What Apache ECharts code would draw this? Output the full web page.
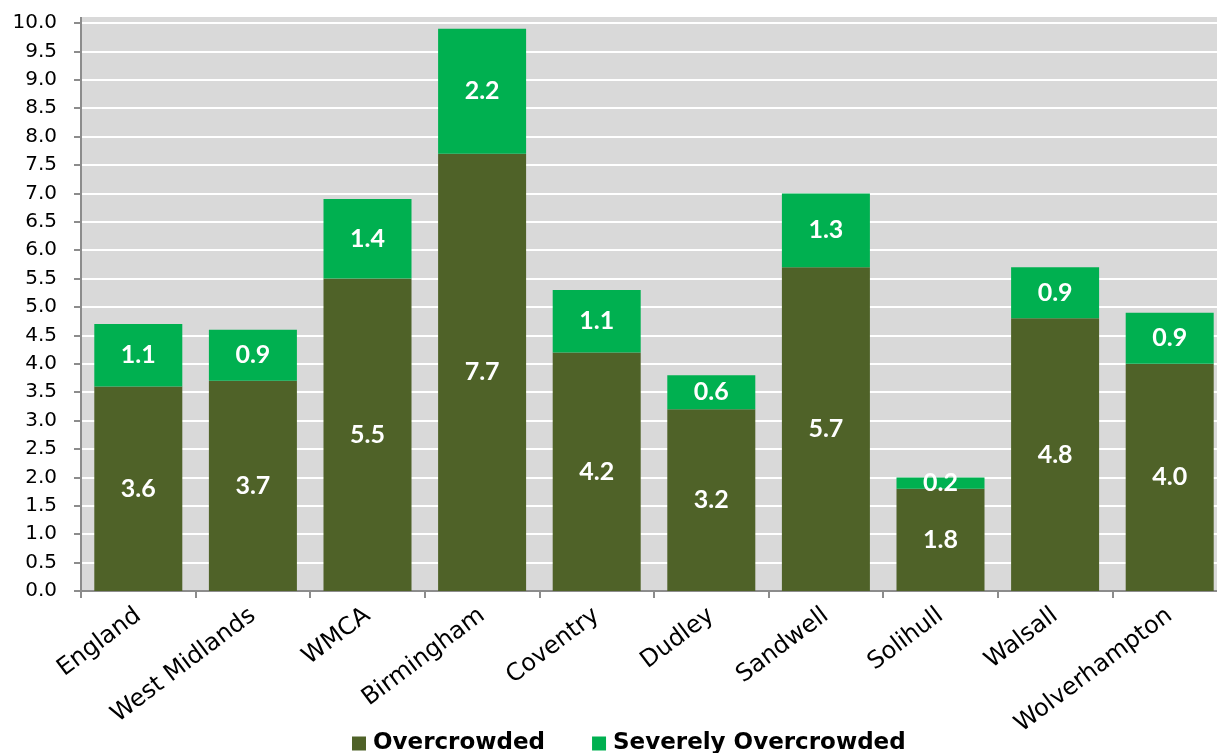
<!DOCTYPE html>
<html>
<head>
<meta charset="utf-8">
<script src="https://cdn.jsdelivr.net/npm/echarts@6/dist/echarts.min.js"></script>
<style>
  html, body { margin: 0; padding: 0; background: #ffffff; }
  #chart { width: 1217px; height: 753px; }
</style>
</head>
<body>
<div id="chart"></div>
<script>
// Overcrowding rates (%) by area
const categories = ['England', 'West Midlands', 'WMCA', 'Birmingham', 'Coventry',
  'Dudley', 'Sandwell', 'Solihull', 'Walsall', 'Wolverhampton'];
const overcrowded = [3.6, 3.7, 5.5, 7.7, 4.2, 3.2, 5.7, 1.8, 4.8, 4.0];
const severelyOvercrowded = [1.1, 0.9, 1.4, 2.2, 1.1, 0.6, 1.3, 0.2, 0.9, 0.9];
const seriesNames = ['Overcrowded', 'Severely Overcrowded'];

const AXIS_FONT = '"DejaVu Sans", sans-serif';
const LABEL_FONT = 'Lato, "Open Sans", sans-serif';

const chart = echarts.init(document.getElementById('chart'), null, { renderer: 'canvas' });

const labelStyle = {
  show: true,
  position: 'inside',
  color: '#ffffff',
  fontFamily: LABEL_FONT,
  fontWeight: 'bold',
  fontSize: 25,
  formatter: p => p.value.toFixed(1)
};

chart.setOption({
  animation: false,
  backgroundColor: '#ffffff',
  grid: {
    left: 81, width: 1146, top: 23, bottom: 162,
    outerBoundsMode: 'none',
    containLabel: false,
    show: false
  },
  graphic: [
    // plot background extends slightly above the 10.0 line
    { type: 'rect', z: -10, shape: { x: 81, y: 17, width: 1146, height: 574 }, style: { fill: '#d9d9d9' } },
    { type: 'line', z: 10, shape: { x1: 81, y1: 17, x2: 81, y2: 23 }, style: { stroke: '#8c8c8c', lineWidth: 2 } }
  ],
  legend: {
    data: seriesNames,
    left: 347,
    top: 727,
    itemWidth: 14,
    itemHeight: 14,
    itemGap: 47,
    icon: 'rect',
    textStyle: { fontFamily: AXIS_FONT, fontWeight: 'bold', fontSize: 23, color: '#000000', padding: [0, 0, 0, 2] }
  },
  xAxis: {
    type: 'category',
    data: categories,
    axisLine: { lineStyle: { color: '#8c8c8c', width: 2 } },
    axisTick: { show: true, length: 7, lineStyle: { color: '#8c8c8c', width: 2 } },
    axisLabel: {
      rotate: 37,
      margin: 22,
      color: '#000000',
      fontFamily: AXIS_FONT,
      fontSize: 24,
      interval: 0
    }
  },
  yAxis: {
    type: 'value',
    min: 0,
    max: 10,
    interval: 0.5,
    axisLine: { show: true, lineStyle: { color: '#8c8c8c', width: 2 } },
    axisTick: { show: true, length: 7, lineStyle: { color: '#8c8c8c', width: 2 } },
    axisLabel: {
      color: '#000000',
      fontFamily: AXIS_FONT,
      fontSize: 20,
      margin: 24,
      formatter: v => v.toFixed(1)
    },
    splitLine: { lineStyle: { color: '#ffffff', width: 2 } }
  },
  series: [
    {
      name: seriesNames[0],
      type: 'bar',
      stack: 'total',
      data: overcrowded,
      barWidth: 88,
      itemStyle: { color: '#4f6228' },
      label: labelStyle
    },
    {
      name: seriesNames[1],
      type: 'bar',
      stack: 'total',
      data: severelyOvercrowded,
      barWidth: 88,
      itemStyle: { color: '#00b050' },
      label: labelStyle
    }
  ]
});
</script>
</body>
</html>
